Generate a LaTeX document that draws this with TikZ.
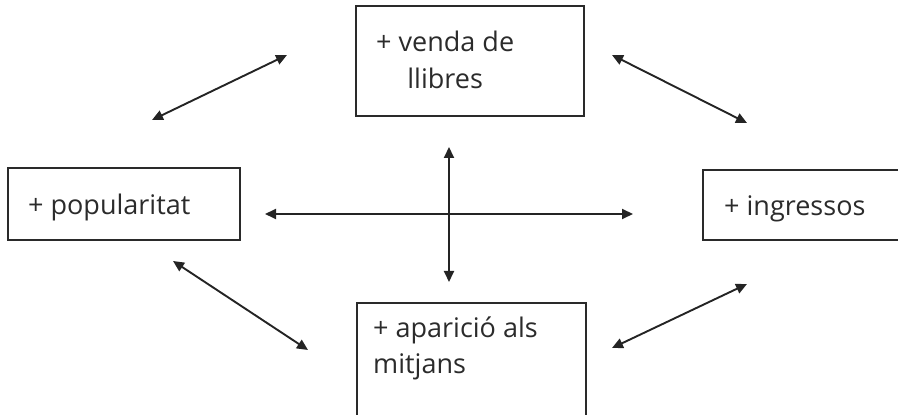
\documentclass[tikz,border=0pt]{standalone}
\usepackage{fontspec}
\setmainfont{Open Sans}
\usetikzlibrary{positioning,arrows.meta}

\begin{document}
\begin{tikzpicture}[x=1pt,y=1pt,>={Triangle[length=11pt,width=10pt]}]
    \tikzstyle{box}=[draw={rgb:black,5;white,1}, line width=1.2pt, inner sep=0pt]
    \tikzstyle{txt}=[font=\fontsize{27}{27}\selectfont, inner sep=0pt, text={rgb:black,5;white,1}]
    \tikzstyle{link}=[<->, line width=1.9pt, draw={rgb:black,6;white,1}, fill={rgb:black,6;white,1}]
    \path[use as bounding box] (0,0) rectangle (898,415);
    \clip (0,0) rectangle (898,415);

    % boxes
    \node[box, minimum width=228pt, minimum height=110pt] (sales)  at (470,354)   {};
    \node[box, minimum width=232pt, minimum height=72pt]  (pop)    at (124,211)   {};
    \node[box, minimum width=232pt, minimum height=70pt]  (income) at (819,210)   {};
    \node[box, minimum width=229pt, minimum height=127pt] (media)  at (471.5,48.5) {};

    % texts
    \node[txt, anchor=base west] (salestxt)  at (376,363) {\begin{tabular}[t]{@{}c@{}}+ venda de\\[8pt]llibres\end{tabular}};
    \node[txt, anchor=base west] (poptxt)    at (28,200)  {+ popularitat};
    \node[txt, anchor=base west] (incometxt) at (724,199) {+ ingressos};
    \node[txt, anchor=base west] (mediatxt)  at (373,77)  {\begin{tabular}[t]{@{}l@{}}+ aparició als\\[8pt]mitjans\end{tabular}};

    % arrow ends
    \coordinate (ps1) at (152,295);  \coordinate (ps2) at (287,360);
    \coordinate (si1) at (612,360);  \coordinate (si2) at (747,292);
    \coordinate (pm1) at (173,154);  \coordinate (pm2) at (308,65);
    \coordinate (mi1) at (612,67);   \coordinate (mi2) at (747,131);
    \coordinate (h1)  at (265,201);  \coordinate (h2)  at (633,201);
    \coordinate (v1)  at (449,268);  \coordinate (v2)  at (449,133);

    \draw[link] (ps1) -- (ps2);
    \draw[link] (si1) -- (si2);
    \draw[link] (pm1) -- (pm2);
    \draw[link] (mi1) -- (mi2);
    \draw[link] (h1) -- (h2);
    \draw[link] (v1) -- (v2);
\end{tikzpicture}
\end{document}
